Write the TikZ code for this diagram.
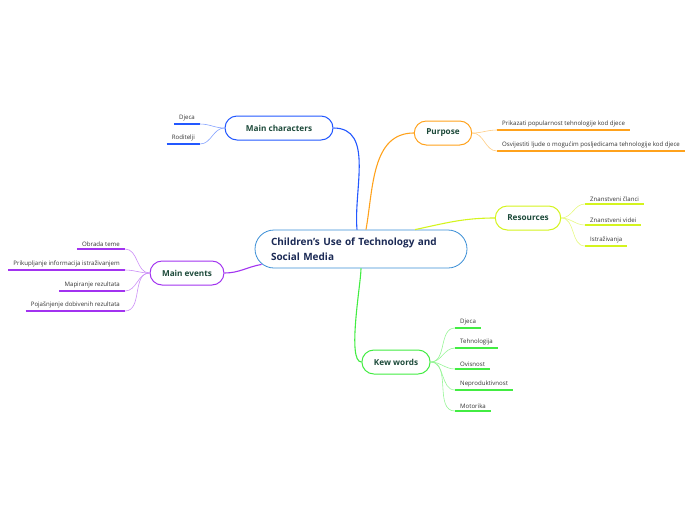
\documentclass[tikz,border=0pt]{standalone}
\usepackage{fontspec}
\setmainfont{Open Sans}
\usetikzlibrary{positioning}
\definecolor{navy}{HTML}{1B2A55}
\definecolor{ink}{HTML}{1D4A3A}
\definecolor{rootc}{HTML}{3A8ED6}
\definecolor{mcc}{HTML}{2358FF}
\definecolor{puc}{HTML}{FFA21C}
\definecolor{rec}{HTML}{D4F41E}
\definecolor{mec}{HTML}{A233F0}
\definecolor{kwc}{HTML}{42EC42}
\begin{document}
\begin{tikzpicture}[x=1pt,y=-1pt,
  root/.style={draw=rootc,fill=white,line width=0.8pt,rounded corners=19pt,minimum width=212pt,minimum height=38pt,text width=180pt,inner xsep=16pt,align=left,font=\fontsize{10}{15.5}\selectfont\bfseries,text=navy},
  topic/.style={draw=#1,fill=white,line width=1pt,rounded corners=12pt,minimum height=24pt,inner xsep=12pt,font=\fontsize{8.2}{10}\selectfont\bfseries,text=ink},
  leaf/.style={inner xsep=5pt,inner ysep=2.5pt,font=\fontsize{6.1}{7}\selectfont,text=black!80},
  link/.style={draw=#1,line width=1.1pt},
  twig/.style={draw=#1!55,line width=0.6pt},
  uline/.style={draw=#1,line width=1.2pt}]
\useasboundingbox (0,0) rectangle (696,520);
\node[root] (root) at (361,249) {Children's Use of Technology and\\Social Media};
\node[topic=mcc,minimum width=108pt] (mc) at (279,128) {Main characters};
\node[topic=puc] (pu) at (443,133) {Purpose};
\node[topic=rec] (re) at (528,218) {Resources};
\node[topic=mec] (me) at (187,273) {Main events};
\node[topic=kwc] (kw) at (396,362) {Kew words};
\draw[link=mcc] (mc.east) to[out=0,in=95] ([xshift=-4pt]root.north);
\draw[link=puc] ([xshift=5pt]root.north) to[out=80,in=180] (pu.west);
\draw[link=rec] ([xshift=54pt]root.north) to[out=12,in=180] (re.west);
\draw[link=mec] ([shift={(7pt,4pt)}]root.south west) to[out=190,in=0] (me.east);
\draw[link=kwc] (root.south) to[out=-90,in=180,looseness=0.4] (kw.west);
\foreach \t/\y [count=\i] in {Djeca/124,Roditelji/144}{
  \node[leaf,anchor=south east] (mc\i) at (200,\y) {\t};
  \draw[uline=mcc] (mc\i.south west) -- (mc\i.south east);
  \draw[twig=mcc] (mc.west) to[out=180,in=0] (mc\i.south east);
}
\foreach \t/\y [count=\i] in {Prikazati popularnost tehnologije kod djece/130,Osvijestiti ljude o mogućim posljedicama tehnologije kod djece/151}{
  \node[leaf,anchor=south west] (pu\i) at (497,\y) {\t};
  \draw[uline=puc] (pu\i.south west) -- (pu\i.south east);
  \draw[twig=puc] (pu.east) to[out=0,in=180] (pu\i.south west);
}
\foreach \t/\y [count=\i] in {Znanstveni članci/204,Znanstveni videi/225,Istraživanja/246}{
  \node[leaf,anchor=south west] (re\i) at (585,\y) {\t};
  \draw[uline=rec] (re\i.south west) -- (re\i.south east);
  \draw[twig=rec] (re.east) to[out=0,in=180] (re\i.south west);
}
\foreach \t/\y [count=\i] in {Obrada teme/249,Prikupljanje informacija istraživanjem/270,Mapiranje rezultata/291,Pojašnjenje dobivenih rezultata/311}{
  \node[leaf,anchor=south east] (me\i) at (125,\y) {\t};
  \draw[uline=mec] (me\i.south west) -- (me\i.south east);
  \draw[twig=mec] (me.west) to[out=180,in=0] (me\i.south east);
}
\foreach \t/\y [count=\i] in {Djeca/328,Tehnologija/348,Ovisnost/369,Neproduktivnost/390,Motorika/411}{
  \node[leaf,anchor=south west] (kw\i) at (455,\y) {\t};
  \draw[uline=kwc] (kw\i.south west) -- (kw\i.south east);
  \draw[twig=kwc] (kw.east) to[out=0,in=180] (kw\i.south west);
}
\end{tikzpicture}
\end{document}
